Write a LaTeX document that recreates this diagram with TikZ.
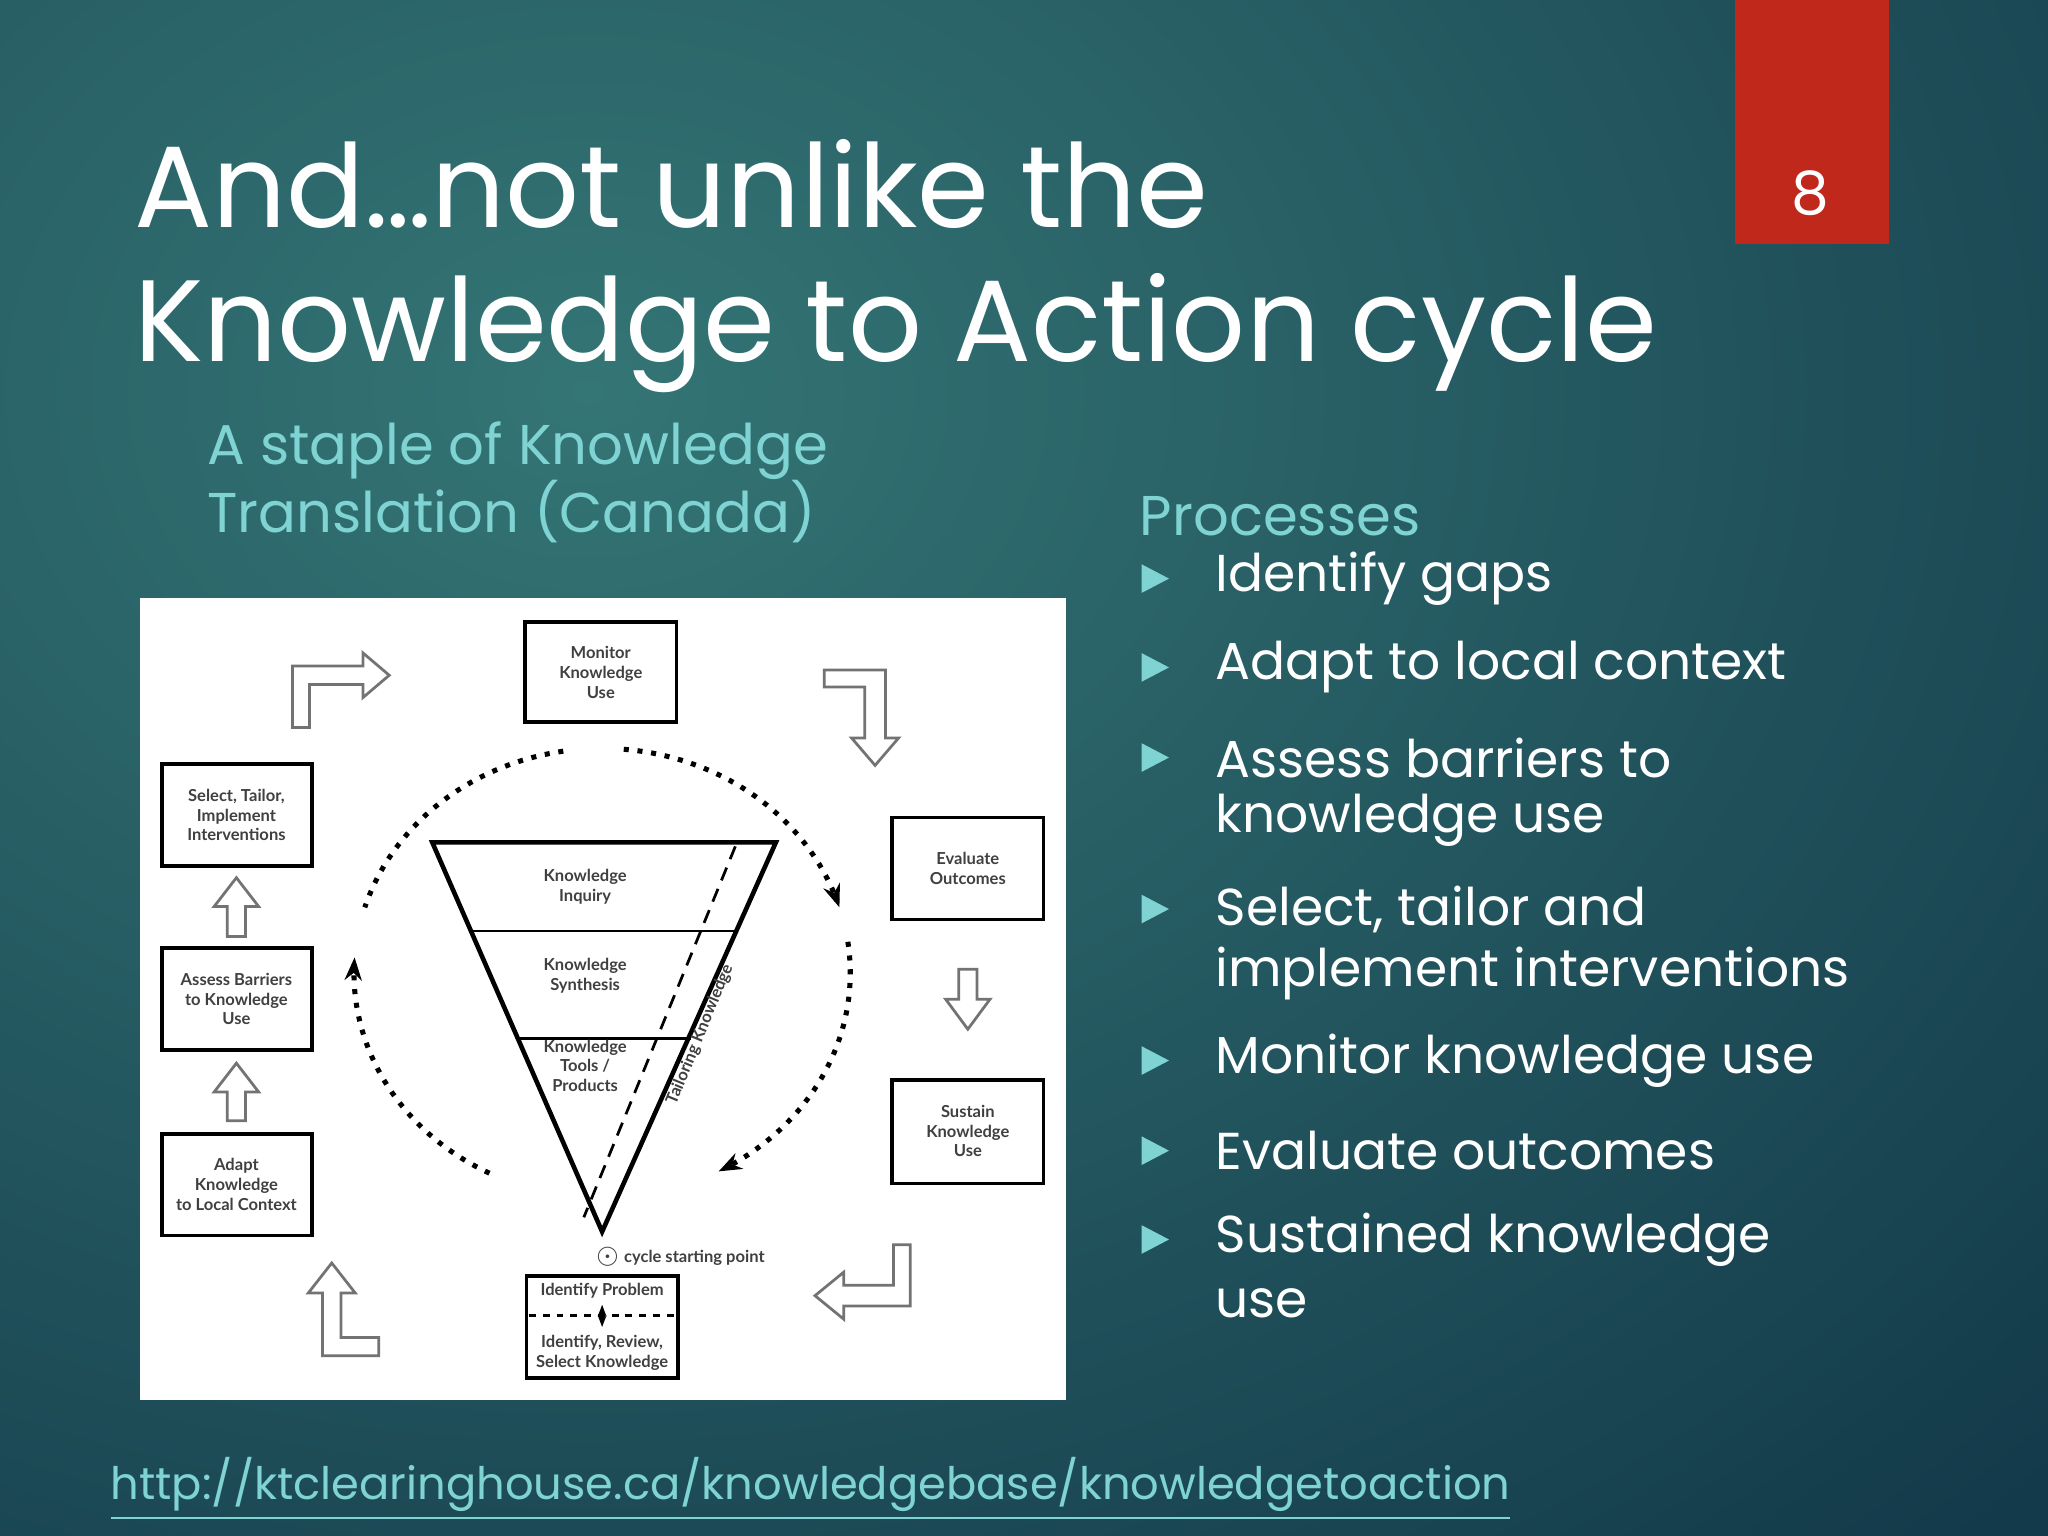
\documentclass[tikz,border=0pt]{standalone}
\usepackage{fontspec}
\setmainfont{Poppins}
\newfontfamily\lato{Lato}
\usetikzlibrary{arrows.meta}
\definecolor{tealtxt}{HTML}{7FD3D3}
\definecolor{bgin}{HTML}{347575}
\definecolor{bgout}{HTML}{133A4A}
\definecolor{redbox}{HTML}{C0281C}
\begin{document}
\begin{tikzpicture}[x=0.01cm,y=-0.01cm,
  bx/.style={inner sep=0pt,align=center,font=\lato\bfseries\fontsize{3.6}{4.3}\selectfont,text=black!75},
  blk/.style={draw=black!55,line width=0.6pt,fill=white},
  dots/.style={line width=1.1pt,dash pattern=on 1.1pt off 1.9pt},
  bul/.style={fill=tealtxt,draw=none},
  item/.style={anchor=west,inner sep=0pt,text=white,font=\fontsize{11.3}{12}\selectfont}]
\useasboundingbox (0,0) rectangle (1568,1176);
\shade[inner color=bgin,outer color=bgout] (-1100,-900) rectangle (2000,1500);
% page number box
\fill[redbox] (1328,0) rectangle (1446,187);
\node[text=white,font=\fontsize{13}{13}\selectfont] (pg) at (1386,148) {8};
% title
\node[anchor=base west,text=white,font=\fontsize{25.2}{30}\selectfont,inner sep=0pt] (t1) at (102,174) {And…not unlike the};
\node[anchor=base west,text=white,font=\fontsize{25.2}{30}\selectfont,inner sep=0pt] (t2) at (102,277) {Knowledge to Action cycle};
\node[anchor=base west,text=tealtxt,font=\fontsize{12.2}{14}\selectfont,inner sep=0pt] (s1) at (158,356) {A staple of Knowledge};
\node[anchor=base west,text=tealtxt,font=\fontsize{12.2}{14}\selectfont,inner sep=0pt] (s2) at (158,408) {Translation (Canada)};
\node[anchor=base west,text=tealtxt,font=\fontsize{12.2}{14}\selectfont,inner sep=0pt] (pr) at (872,410) {Processes};
% bullets
\foreach \y in {443,511,580,696,812,881,949}{
  \fill[bul] (874,\y-11) -- (895,\y) -- (874,\y+11) -- cycle;}
\node[item] (i1) at (930,443) {Identify gaps};
\node[item] (i2) at (930,511) {Adapt to local context};
\node[item] (i3a) at (930,580) {Assess barriers to};
\node[item] (i3b) at (930,628) {knowledge use};
\node[item] (i4a) at (930,696) {Select, tailor and};
\node[item] (i4b) at (930,745) {implement interventions};
\node[item] (i5) at (930,812) {Monitor knowledge use};
\node[item] (i6) at (930,881) {Evaluate outcomes};
\node[item] (i7a) at (930,949) {Sustained knowledge};
\node[item] (i7b) at (930,998) {use};
% link
\node[anchor=base west,text=tealtxt,font=\fontsize{9.75}{12}\selectfont,inner sep=0pt] (lnk) at (84,1148) {\underline{http://ktclearinghouse.ca/knowledgebase/knowledgetoaction}};
% diagram
\fill[white] (107,458) rectangle (816,1072);
\draw[black,line width=0.8pt] (402,476) rectangle (518,553);
\node[bx] (mon) at (460,515) {Monitor\\Knowledge\\Use};
\draw[black,line width=0.8pt] (124,585) rectangle (239,663);
\node[bx] (sel) at (181,624) {Select, Tailor,\\Implement\\Interventions};
\draw[black,line width=0.8pt] (124,726) rectangle (239,804);
\node[bx] (ass) at (181,765) {Assess Barriers\\to Knowledge\\Use};
\draw[black,line width=0.8pt] (124,868) rectangle (239,946);
\node[bx] (ada) at (181,907) {Adapt\\Knowledge\\to Local Context};
\draw[black,line width=0.8pt] (683,626) rectangle (799,704);
\node[bx] (eva) at (741,665) {Evaluate\\Outcomes};
\draw[black,line width=0.8pt] (683,827) rectangle (799,906);
\node[bx] (sus) at (741,866) {Sustain\\Knowledge\\Use};
\draw[black,line width=0.8pt] (403,977) rectangle (519,1055);
\draw[black,line width=0.6pt,dash pattern=on 1.5pt off 1.5pt] (405,1007) -- (517,1007);
\node[bx] (idp) at (461,988) {Identify Problem};
\node[bx] (idk) at (461,1036) {Identify, Review,\\Select Knowledge};
\draw[black,line width=0.9pt,{Stealth[length=2.5pt]}-{Stealth[length=2.5pt]}] (461,999) -- (461,1016);
% funnel
\coordinate (tl) at (331,645); \coordinate (tr) at (594,645); \coordinate (ap) at (461,943);
\draw[black,line width=1pt] (tl) -- (tr) -- (ap) -- cycle;
\draw[black,line width=0.5pt] (361,713) -- (565,713);
\draw[black,line width=0.5pt] (397,795) -- (529,795);
\draw[black,line width=0.6pt,dash pattern=on 3pt off 2pt] (563,648) -- (447,932);
\node[bx] (ki) at (448,679) {Knowledge\\Inquiry};
\node[bx] (ks) at (448,747) {Knowledge\\Synthesis};
\node[bx] (kt) at (448,816) {Knowledge\\Tools /\\Products};
\node[bx,rotate=67.6] (tk) at (536,792) {Tailoring Knowledge};
\node[bx,anchor=west] (csp) at (455,962) {$\odot$ cycle starting point};
% dotted cycle arcs
\draw[dots] plot[domain=99:163,samples=40] ({461+190*cos(\x)},{745-172*sin(\x)});
\draw[dots,-{Stealth[length=5pt]}] plot[domain=243:176,samples=40] ({461+190*cos(\x)},{745-172*sin(\x)});
\draw[dots,-{Stealth[length=5pt]}] plot[domain=85:17,samples=40] ({461+190*cos(\x)},{745-172*sin(\x)});
\draw[dots,-{Stealth[length=5pt]}] plot[domain=8:-62,samples=40] ({461+190*cos(\x)},{745-172*sin(\x)});
% block arrows
\draw[blk] (224,557)--(224,510)--(278,510)--(278,500)--(298,517)--(278,534)--(278,524)--(237,524)--(237,557)--cycle;
\draw[blk] (631,513)--(678,513)--(678,565)--(688,565)--(670,586)--(652,565)--(662,565)--(662,526)--(631,526)--cycle;
\draw[blk] (734,742)--(748,742)--(748,765)--(758,765)--(741,788)--(724,765)--(734,765)--cycle;
\draw[blk] (697,953)--(697,1000)--(646,1000)--(646,1010)--(624,992)--(646,974)--(646,984)--(684,984)--(684,953)--cycle;
\draw[blk] (290,1038)--(247,1038)--(247,990)--(236,990)--(254,967)--(272,990)--(261,990)--(261,1024)--(290,1024)--cycle;
\draw[blk] (174,717)--(188,717)--(188,694)--(198,694)--(181,672)--(164,694)--(174,694)--cycle;
\draw[blk] (174,858)--(188,858)--(188,836)--(198,836)--(181,814)--(164,836)--(174,836)--cycle;
\end{tikzpicture}
\end{document}
